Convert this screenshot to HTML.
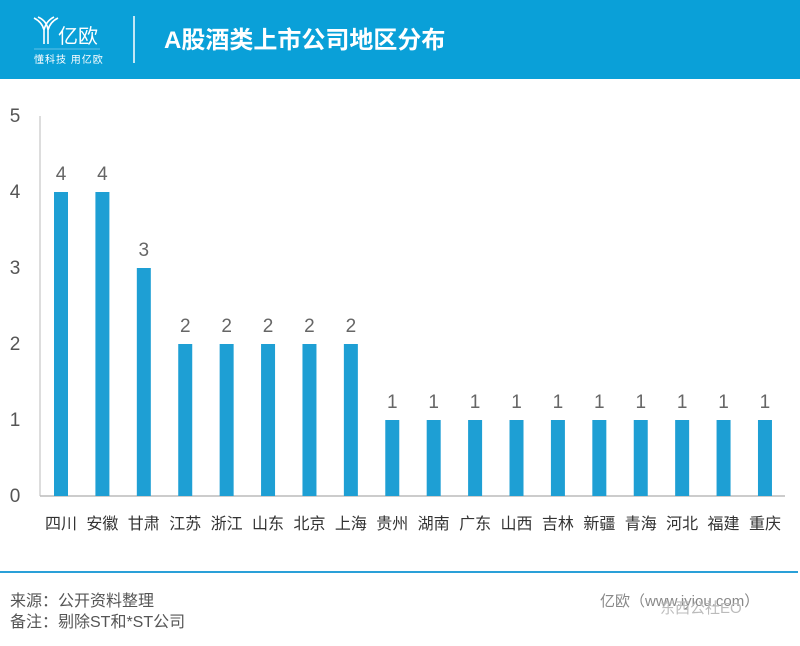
<!DOCTYPE html>
<html><head><meta charset="utf-8"><style>
body{margin:0;width:800px;height:641px;background:#fff;overflow:hidden;font-family:"Liberation Sans","Noto Sans CJK SC",sans-serif;}
</style></head><body>
<svg width="800" height="641" xmlns="http://www.w3.org/2000/svg" font-family="Liberation Sans, Noto Sans CJK SC, sans-serif">
<rect x="0" y="0" width="800" height="79" fill="#0aa0d8"/>
<g stroke="#fff" stroke-width="1.6" fill="none">
<path d="M34 18 Q42 22 44 30 L44 44 M38 17 Q47 21 48 30 L48 44 M58 18 Q50 22 48 30 M54 17 Q46 21 44 30"/>
</g>
<text x="58" y="43" font-size="20" fill="#fff">亿欧</text>
<line x1="34" y1="49" x2="100" y2="49" stroke="#fff" stroke-width="0.6" opacity="0.7"/>
<text x="34" y="63" font-size="10" fill="#fff" letter-spacing="1">懂科技 用亿欧</text>
<line x1="134" y1="16" x2="134" y2="63" stroke="#fff" stroke-width="1.5"/>
<text x="164" y="48" font-size="24" font-weight="bold" fill="#fff">A股酒类上市公司地区分布</text>
<line x1="40" y1="116" x2="40" y2="496" stroke="#bbb" stroke-width="1"/>
<line x1="40" y1="496" x2="785" y2="496" stroke="#bbb" stroke-width="1.5"/>
<g font-size="19" fill="#555" text-anchor="middle">
<text x="15" y="122">5</text><text x="15" y="198">4</text><text x="15" y="274">3</text><text x="15" y="350">2</text><text x="15" y="426">1</text><text x="15" y="502">0</text>
</g>
<g id="bars" fill="#1e9fd4"></g>
<g id="vals" font-size="19" fill="#666" text-anchor="middle"></g>
<g id="cats" font-size="16" fill="#333" text-anchor="middle"></g>
<line x1="0" y1="572" x2="798" y2="572" stroke="#2aa0d8" stroke-width="2"/>
<text x="10" y="606" font-size="16" fill="#555">来源：公开资料整理</text>
<text x="10" y="627" font-size="16" fill="#555">备注：剔除ST和*ST公司</text>
<text x="600" y="606" font-size="15" fill="#888">亿欧（www.iyiou.com）</text>
<text x="660" y="613" font-size="15" fill="#bbb">东西公社EO</text>
<script>
var d=[["四川",4],["安徽",4],["甘肃",3],["江苏",2],["浙江",2],["山东",2],["北京",2],["上海",2],["贵州",1],["湖南",1],["广东",1],["山西",1],["吉林",1],["新疆",1],["青海",1],["河北",1],["福建",1],["重庆",1]];
var ns="http://www.w3.org/2000/svg";
d.forEach(function(e,i){var x=54+i*41.41,h=e[1]*76;
var r=document.createElementNS(ns,"rect");r.setAttribute("x",x);r.setAttribute("y",496-h);r.setAttribute("width",14);r.setAttribute("height",h);document.getElementById("bars").appendChild(r);
var t=document.createElementNS(ns,"text");t.setAttribute("x",x+7);t.setAttribute("y",496-h-12);t.textContent=e[1];document.getElementById("vals").appendChild(t);
var c=document.createElementNS(ns,"text");c.setAttribute("x",x+7);c.setAttribute("y",529);c.textContent=e[0];document.getElementById("cats").appendChild(c);});
</script>
</svg>
</body></html>
